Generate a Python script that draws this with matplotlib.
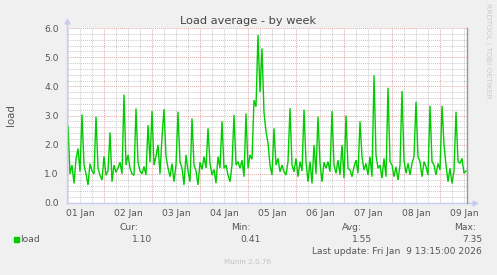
import matplotlib
matplotlib.use("Agg")
import matplotlib.pyplot as plt
from matplotlib.patches import Rectangle
import numpy as np

# hourly samples, hours counted from 01 Jan 00:00
hours = np.arange(5, 206)
load = [
    1.0, 2.65, 1.0, 1.3, 0.67, 1.5, 1.87, 1.07, 3.04, 1.3,
    1.0, 0.62, 1.35, 1.1, 1.0, 2.96, 1.2, 0.95, 0.79, 1.6,
    0.95, 1.1, 2.42, 0.73, 1.3, 1.05, 1.2, 1.4, 1.0, 3.72,
    1.3, 1.65, 1.2, 1.0, 0.95, 3.24, 1.4, 1.1, 1.0, 1.25,
    0.96, 2.67, 1.4, 3.15, 1.3, 1.6, 1.99, 1.0, 2.27, 3.22,
    1.6, 1.2, 0.9, 1.35, 0.73, 1.3, 3.13, 1.4, 1.2, 0.62,
    1.65, 1.1, 0.73, 2.9, 1.3, 1.1, 0.62, 1.4, 1.15, 1.59,
    1.2, 2.56, 1.35, 0.96, 1.15, 0.68, 1.59, 1.2, 2.8, 1.19,
    1.3, 0.96, 0.73, 1.3, 3.02, 1.3, 1.42, 1.19, 1.47, 0.9,
    3.07, 1.19, 1.65, 1.5, 3.53, 3.3, 5.76, 3.8, 5.3, 3.1,
    2.45, 2.05, 1.3, 0.96, 2.56, 1.3, 1.53, 1.07, 1.3, 1.07,
    0.96, 1.42, 3.25, 1.3, 1.07, 1.53, 0.9, 1.42, 1.1, 3.2,
    1.42, 0.73, 1.42, 0.67, 1.99, 1.0, 2.96, 1.36, 0.73, 1.4,
    1.19, 1.42, 1.07, 3.15, 1.3, 1.02, 1.47, 0.96, 1.99, 0.85,
    3.0, 1.19, 1.13, 0.9, 1.24, 1.47, 1.02, 2.8, 1.59, 1.13,
    1.36, 0.96, 1.59, 0.9, 4.38, 1.64, 1.19, 1.3, 0.85, 1.53,
    0.9, 3.95, 1.42, 1.3, 0.9, 1.24, 0.79, 1.3, 3.84, 1.47,
    1.02, 1.36, 0.96, 1.36, 1.59, 3.47, 1.59, 1.42, 0.9, 1.42,
    1.24, 0.96, 3.33, 1.42, 1.3, 0.96, 1.36, 1.13, 3.33, 1.99,
    1.3, 0.73, 1.19, 0.67, 1.1, 3.13, 1.42, 1.36, 1.53, 1.02,
    1.1,
]
day_labels = ["01 Jan", "02 Jan", "03 Jan", "04 Jan", "05 Jan",
              "06 Jan", "07 Jan", "08 Jan", "09 Jan"]
y_ticks = [0.0, 1.0, 2.0, 3.0, 4.0, 5.0, 6.0]
stat_names = ["Cur:", "Min:", "Avg:", "Max:"]
stat_values = ["1.10", "0.41", "1.55", "7.35"]

W, H = 497, 275
fx = lambda px: px / W
fy = lambda py: 1 - py / H
txt = "#555555"
fs = 6.6

fig = plt.figure(figsize=(W / 100, H / 100), dpi=100, facecolor="#f0f0f0")
ax = fig.add_axes([fx(67), fy(203), 400 / W, 175 / H])
ax.set_facecolor("white")
x0, x1 = 5.5, 205.5
ax.set_xlim(x0, x1)
ax.set_ylim(0, 6)

# grid: minor every 6 h / 0.2, major at midnight / every 1.0
dot = (0, (1, 1))
for h in range(6, 206, 6):
    if h % 24:
        ax.axvline(h, color="#cacaca", ls=dot, lw=0.7, zorder=1)
for v in np.arange(0.2, 6.0, 0.2):
    if abs(v - round(v)) > 0.01:
        ax.axhline(v, color="#cacaca", ls=dot, lw=0.7, zorder=1)
for h in range(24, 206, 24):
    ax.axvline(h, color="#e6a8a8", ls=dot, lw=0.7, zorder=1)
for v in y_ticks[1:]:
    ax.axhline(v, color="#e6a8a8", ls=dot, lw=0.7, zorder=1)

ax.plot(hours, load, color="#00cc00", lw=1.0, zorder=3, solid_joinstyle="miter")

for s in ax.spines.values():
    s.set_visible(False)

# axes with arrows
axc = "#c8ccf0"
ax.plot([x0, x0], [0, 6.25], color=axc, lw=1.0, clip_on=False, zorder=4)
ax.plot([x0], [6.25], marker="^", ms=3.5, color=axc, clip_on=False, zorder=4)
ax.plot([x0, x1 + 4], [0, 0], color=axc, lw=1.0, clip_on=False, zorder=4)
ax.plot([x1 + 4], [0], marker=">", ms=3.5, color=axc, clip_on=False, zorder=4)
ax.plot([x1, x1], [0, 6], color="#999999", lw=1.0, clip_on=False, zorder=4)

ax.set_yticks(y_ticks)
ax.set_yticklabels(["%.1f" % v for v in y_ticks])
ax.set_xticks(np.arange(12, 206, 24))
ax.set_xticklabels(day_labels)
ax.tick_params(axis="both", length=0, labelsize=fs, labelcolor=txt)
ax.tick_params(axis="y", pad=6)
ax.tick_params(axis="x", pad=4)

fig.text(fx(248), fy(21), "Load average - by week", ha="center", va="center",
         fontsize=8.2, color="#444444")
fig.text(fx(11), fy(115), "load", rotation=90, ha="center", va="center",
         fontsize=7.4, color=txt)
fig.text(fx(488), fy(51), "RRDTOOL / TOBI OETIKER", rotation=270, ha="center",
         va="center", fontsize=5.4, color="#cccccc")

# legend
fig.patches.append(Rectangle((fx(14), fy(242)), 5 / W, 5 / H, color="#00cc00",
                             transform=fig.transFigure))
fig.text(fx(20), fy(239), "load", ha="left", va="center", fontsize=fs, color=txt)
name_right = [139, 251, 362, 476]
value_right = [152, 261, 372, 482]
for name, val, nr, vr in zip(stat_names, stat_values, name_right, value_right):
    fig.text(fx(nr), fy(227), name, ha="right", va="center", fontsize=fs, color=txt)
    fig.text(fx(vr), fy(239), val, ha="right", va="center", fontsize=fs, color=txt)
fig.text(fx(482), fy(251), "Last update: Fri Jan  9 13:15:00 2026", ha="right",
         va="center", fontsize=fs, color=txt)
fig.text(fx(248), fy(262), "Munin 2.0.76", ha="center", va="center",
         fontsize=5.2, color="#c4c4c4")

fig.savefig("out.png", dpi=100, facecolor=fig.get_facecolor())
